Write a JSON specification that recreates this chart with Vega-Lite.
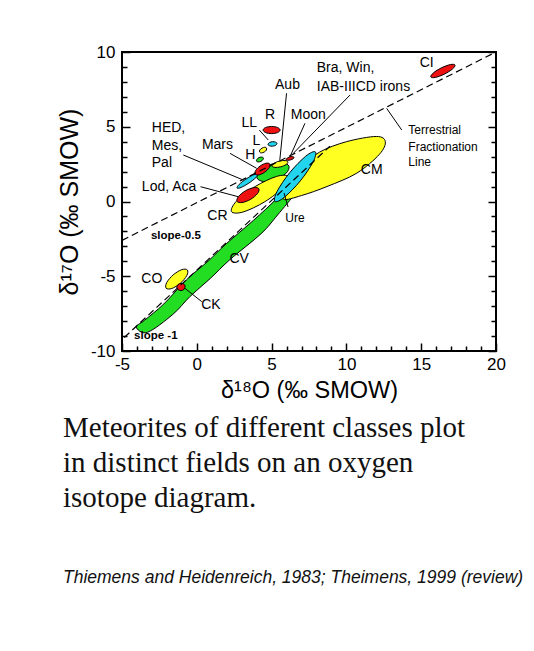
{
  "$schema": "https://vega.github.io/schema/vega-lite/v6.json",
  "width": 374,
  "height": 299,
  "autosize": {"type": "none"},
  "padding": {"left": 122, "top": 52, "right": 38, "bottom": 300},
  "background": "white",
  "config": {
    "view": {"stroke": "black", "strokeWidth": 2},
    "font": "Liberation Sans"
  },
  "title": {
    "text": ["Meteorites of different classes plot", "in distinct fields on an oxygen", "isotope diagram."],
    "subtitle": "Thiemens and Heidenreich, 1983; Theimens, 1999 (review)",
    "orient": "bottom",
    "anchor": "start",
    "frame": "group",
    "dx": -59,
    "offset": 12,
    "font": "Liberation Serif",
    "fontSize": 29,
    "fontWeight": "normal",
    "lineHeight": 35,
    "color": "#111111",
    "subtitleFont": "Liberation Sans",
    "subtitleFontStyle": "italic",
    "subtitleFontSize": 17.5,
    "subtitlePadding": 56,
    "subtitleColor": "#111111"
  },
  "datasets": {
    "fields": [
      {"f": "01 CV", "o": 1, "x": -4.05, "y": -8.4},
      {"f": "01 CV", "o": 2, "x": -3.5, "y": -7.95},
      {"f": "01 CV", "o": 3, "x": -2.2, "y": -6.85},
      {"f": "01 CV", "o": 4, "x": -0.7, "y": -5.25},
      {"f": "01 CV", "o": 5, "x": 0.8, "y": -3.95},
      {"f": "01 CV", "o": 6, "x": 2.0, "y": -2.8},
      {"f": "01 CV", "o": 7, "x": 3.8, "y": -1.25},
      {"f": "01 CV", "o": 8, "x": 5.3, "y": 0.15},
      {"f": "01 CV", "o": 9, "x": 6.3, "y": 1.25},
      {"f": "01 CV", "o": 10, "x": 6.9, "y": 1.0},
      {"f": "01 CV", "o": 11, "x": 6.6, "y": 0.55},
      {"f": "01 CV", "o": 12, "x": 5.4, "y": -0.9},
      {"f": "01 CV", "o": 13, "x": 4.3, "y": -2.15},
      {"f": "01 CV", "o": 14, "x": 2.2, "y": -3.9},
      {"f": "01 CV", "o": 15, "x": 0.9, "y": -5.15},
      {"f": "01 CV", "o": 16, "x": -0.45, "y": -6.35},
      {"f": "01 CV", "o": 17, "x": -1.6, "y": -7.55},
      {"f": "01 CV", "o": 18, "x": -3.3, "y": -8.75},

      {"f": "02 CO", "o": 1, "x": -0.63, "y": -4.58},
      {"f": "02 CO", "o": 2, "x": -1.01, "y": -4.56},
      {"f": "02 CO", "o": 3, "x": -1.58, "y": -4.91},
      {"f": "02 CO", "o": 4, "x": -2.01, "y": -5.42},
      {"f": "02 CO", "o": 5, "x": -2.05, "y": -5.8},
      {"f": "02 CO", "o": 6, "x": -1.67, "y": -5.82},
      {"f": "02 CO", "o": 7, "x": -1.1, "y": -5.47},
      {"f": "02 CO", "o": 8, "x": -0.67, "y": -4.96},

      {"f": "03 CK", "o": 1, "x": -0.78, "y": -5.65},
      {"f": "03 CK", "o": 2, "x": -0.88, "y": -5.52},
      {"f": "03 CK", "o": 3, "x": -1.06, "y": -5.48},
      {"f": "03 CK", "o": 4, "x": -1.26, "y": -5.56},
      {"f": "03 CK", "o": 5, "x": -1.34, "y": -5.75},
      {"f": "03 CK", "o": 6, "x": -1.24, "y": -5.9},
      {"f": "03 CK", "o": 7, "x": -1.06, "y": -5.96},
      {"f": "03 CK", "o": 8, "x": -0.86, "y": -5.88},

      {"f": "04 CM", "o": 1, "x": 5.8, "y": 0.15},
      {"f": "04 CM", "o": 2, "x": 7.0, "y": 0.4},
      {"f": "04 CM", "o": 3, "x": 8.7, "y": 1.0},
      {"f": "04 CM", "o": 4, "x": 10.7, "y": 1.9},
      {"f": "04 CM", "o": 5, "x": 12.2, "y": 3.15},
      {"f": "04 CM", "o": 6, "x": 12.6, "y": 4.0},
      {"f": "04 CM", "o": 7, "x": 12.0, "y": 4.35},
      {"f": "04 CM", "o": 8, "x": 10.0, "y": 4.0},
      {"f": "04 CM", "o": 9, "x": 8.2, "y": 3.3},
      {"f": "04 CM", "o": 10, "x": 7.0, "y": 2.3},
      {"f": "04 CM", "o": 11, "x": 6.2, "y": 1.0},

      {"f": "05 E", "o": 1, "x": 6.16, "y": 2.36},
      {"f": "05 E", "o": 2, "x": 5.72, "y": 2.6},
      {"f": "05 E", "o": 3, "x": 4.91, "y": 2.47},
      {"f": "05 E", "o": 4, "x": 4.21, "y": 2.05},
      {"f": "05 E", "o": 5, "x": 4.02, "y": 1.58},
      {"f": "05 E", "o": 6, "x": 4.46, "y": 1.34},
      {"f": "05 E", "o": 7, "x": 5.27, "y": 1.47},
      {"f": "05 E", "o": 8, "x": 5.97, "y": 1.89},

      {"f": "06 CR", "o": 1, "x": 6.12, "y": 1.66},
      {"f": "06 CR", "o": 2, "x": 5.34, "y": 1.68},
      {"f": "06 CR", "o": 3, "x": 3.9, "y": 1.0},
      {"f": "06 CR", "o": 4, "x": 2.65, "y": 0.02},
      {"f": "06 CR", "o": 5, "x": 2.32, "y": -0.68},
      {"f": "06 CR", "o": 6, "x": 3.1, "y": -0.7},
      {"f": "06 CR", "o": 7, "x": 4.54, "y": -0.02},
      {"f": "06 CR", "o": 8, "x": 5.79, "y": 0.96},

      {"f": "07 Lod", "o": 1, "x": 4.15, "y": 0.85},
      {"f": "07 Lod", "o": 2, "x": 3.82, "y": 0.93},
      {"f": "07 Lod", "o": 3, "x": 3.26, "y": 0.72},
      {"f": "07 Lod", "o": 4, "x": 2.79, "y": 0.34},
      {"f": "07 Lod", "o": 5, "x": 2.69, "y": 0.01},
      {"f": "07 Lod", "o": 6, "x": 3.02, "y": -0.07},
      {"f": "07 Lod", "o": 7, "x": 3.59, "y": 0.14},
      {"f": "07 Lod", "o": 8, "x": 4.05, "y": 0.52},

      {"f": "08 HED", "o": 1, "x": 4.09, "y": 1.84},
      {"f": "08 HED", "o": 2, "x": 3.82, "y": 1.8},
      {"f": "08 HED", "o": 3, "x": 3.3, "y": 1.51},
      {"f": "08 HED", "o": 4, "x": 2.83, "y": 1.14},
      {"f": "08 HED", "o": 5, "x": 2.69, "y": 0.9},
      {"f": "08 HED", "o": 6, "x": 2.96, "y": 0.94},
      {"f": "08 HED", "o": 7, "x": 3.48, "y": 1.23},
      {"f": "08 HED", "o": 8, "x": 3.95, "y": 1.6},

      {"f": "09 Aub", "o": 1, "x": 6.09, "y": 2.65},
      {"f": "09 Aub", "o": 2, "x": 5.9, "y": 2.74},
      {"f": "09 Aub", "o": 3, "x": 5.51, "y": 2.7},
      {"f": "09 Aub", "o": 4, "x": 5.15, "y": 2.55},
      {"f": "09 Aub", "o": 5, "x": 5.03, "y": 2.37},
      {"f": "09 Aub", "o": 6, "x": 5.22, "y": 2.28},
      {"f": "09 Aub", "o": 7, "x": 5.61, "y": 2.32},
      {"f": "09 Aub", "o": 8, "x": 5.97, "y": 2.47},

      {"f": "10 Mars", "o": 1, "x": 4.88, "y": 2.51},
      {"f": "10 Mars", "o": 2, "x": 4.63, "y": 2.56},
      {"f": "10 Mars", "o": 3, "x": 4.24, "y": 2.38},
      {"f": "10 Mars", "o": 4, "x": 3.94, "y": 2.08},
      {"f": "10 Mars", "o": 5, "x": 3.9, "y": 1.83},
      {"f": "10 Mars", "o": 6, "x": 4.15, "y": 1.78},
      {"f": "10 Mars", "o": 7, "x": 4.54, "y": 1.96},
      {"f": "10 Mars", "o": 8, "x": 4.84, "y": 2.26},

      {"f": "11 H", "o": 1, "x": 4.45, "y": 2.92},
      {"f": "11 H", "o": 2, "x": 4.34, "y": 2.97},
      {"f": "11 H", "o": 3, "x": 4.16, "y": 2.94},
      {"f": "11 H", "o": 4, "x": 4.02, "y": 2.82},
      {"f": "11 H", "o": 5, "x": 3.99, "y": 2.7},
      {"f": "11 H", "o": 6, "x": 4.1, "y": 2.65},
      {"f": "11 H", "o": 7, "x": 4.28, "y": 2.68},
      {"f": "11 H", "o": 8, "x": 4.42, "y": 2.8},

      {"f": "12 L", "o": 1, "x": 4.66, "y": 3.58},
      {"f": "12 L", "o": 2, "x": 4.54, "y": 3.63},
      {"f": "12 L", "o": 3, "x": 4.36, "y": 3.57},
      {"f": "12 L", "o": 4, "x": 4.21, "y": 3.44},
      {"f": "12 L", "o": 5, "x": 4.2, "y": 3.31},
      {"f": "12 L", "o": 6, "x": 4.32, "y": 3.25},
      {"f": "12 L", "o": 7, "x": 4.51, "y": 3.31},
      {"f": "12 L", "o": 8, "x": 4.65, "y": 3.44},

      {"f": "13 LL", "o": 1, "x": 5.36, "y": 3.88},
      {"f": "13 LL", "o": 2, "x": 5.27, "y": 3.97},
      {"f": "13 LL", "o": 3, "x": 5.06, "y": 4.0},
      {"f": "13 LL", "o": 4, "x": 4.85, "y": 3.94},
      {"f": "13 LL", "o": 5, "x": 4.76, "y": 3.82},
      {"f": "13 LL", "o": 6, "x": 4.85, "y": 3.73},
      {"f": "13 LL", "o": 7, "x": 5.06, "y": 3.7},
      {"f": "13 LL", "o": 8, "x": 5.27, "y": 3.76},

      {"f": "14 R", "o": 1, "x": 5.57, "y": 4.78},
      {"f": "14 R", "o": 2, "x": 5.4, "y": 4.95},
      {"f": "14 R", "o": 3, "x": 5.0, "y": 5.02},
      {"f": "14 R", "o": 4, "x": 4.6, "y": 4.95},
      {"f": "14 R", "o": 5, "x": 4.43, "y": 4.78},
      {"f": "14 R", "o": 6, "x": 4.6, "y": 4.61},
      {"f": "14 R", "o": 7, "x": 5.0, "y": 4.54},
      {"f": "14 R", "o": 8, "x": 5.4, "y": 4.61},

      {"f": "15 Ure", "o": 1, "x": 7.92, "y": 3.32},
      {"f": "15 Ure", "o": 2, "x": 7.28, "y": 3.03},
      {"f": "15 Ure", "o": 3, "x": 6.22, "y": 1.94},
      {"f": "15 Ure", "o": 4, "x": 5.37, "y": 0.68},
      {"f": "15 Ure", "o": 5, "x": 5.22, "y": 0.0},
      {"f": "15 Ure", "o": 6, "x": 5.86, "y": 0.29},
      {"f": "15 Ure", "o": 7, "x": 6.92, "y": 1.38},
      {"f": "15 Ure", "o": 8, "x": 7.77, "y": 2.64},

      {"f": "16 Moon", "o": 1, "x": 6.5, "y": 2.95},
      {"f": "16 Moon", "o": 2, "x": 6.4, "y": 3.0},
      {"f": "16 Moon", "o": 3, "x": 6.2, "y": 2.98},
      {"f": "16 Moon", "o": 4, "x": 6.02, "y": 2.88},
      {"f": "16 Moon", "o": 5, "x": 5.96, "y": 2.81},
      {"f": "16 Moon", "o": 6, "x": 6.06, "y": 2.76},
      {"f": "16 Moon", "o": 7, "x": 6.26, "y": 2.78},
      {"f": "16 Moon", "o": 8, "x": 6.44, "y": 2.86},

      {"f": "17 CI", "o": 1, "x": 17.26, "y": 9.13},
      {"f": "17 CI", "o": 2, "x": 16.95, "y": 9.16},
      {"f": "17 CI", "o": 3, "x": 16.35, "y": 8.94},
      {"f": "17 CI", "o": 4, "x": 15.81, "y": 8.6},
      {"f": "17 CI", "o": 5, "x": 15.64, "y": 8.33},
      {"f": "17 CI", "o": 6, "x": 15.95, "y": 8.3},
      {"f": "17 CI", "o": 7, "x": 16.55, "y": 8.52},
      {"f": "17 CI", "o": 8, "x": 17.09, "y": 8.86}
    ],
    "lines": [
      {"l": "TFL", "o": 1, "x": -5, "y": -2.6},
      {"l": "TFL", "o": 2, "x": 20, "y": 10},
      {"l": "CCAM", "o": 1, "x": -4.85, "y": -9.1},
      {"l": "CCAM", "o": 2, "x": 8.9, "y": 3.7}
    ],
    "leaders": [
      {"x": -0.79, "y": -5.81, "x2": 0.33, "y2": -6.7},
      {"x": 5.83, "y": 0.57, "x2": 6.1, "y2": -0.37},
      {"x": 0.25, "y": 0.99, "x2": 2.77, "y2": 0.32},
      {"x": -0.9, "y": 3.11, "x2": 3.1, "y2": 1.44},
      {"x": 2.22, "y": 3.22, "x2": 4.0, "y2": 2.22},
      {"x": 4.18, "y": 4.78, "x2": 4.78, "y2": 4.11},
      {"x": 6.0, "y": 7.24, "x2": 5.55, "y2": 2.78},
      {"x": 7.23, "y": 5.23, "x2": 6.23, "y2": 3.0},
      {"x": 10.24, "y": 7.12, "x2": 6.45, "y2": 3.22},
      {"x": 13.7, "y": 4.78, "x2": 12.69, "y2": 6.23}
    ],
    "labels": [
      {"t": "CI", "x": 15.37, "y": 9.24},
      {"t": "Aub", "x": 6.06, "y": 7.79},
      {"t": "Moon", "x": 7.45, "y": 5.79},
      {"t": "R", "x": 4.89, "y": 5.79},
      {"t": "LL", "x": 3.5, "y": 5.23},
      {"t": "L", "x": 3.98, "y": 4.08},
      {"t": "H", "x": 3.58, "y": 3.11},
      {"t": "Mars", "x": 1.38, "y": 3.78},
      {"t": "Lod, Aca", "x": -1.85, "y": 0.94},
      {"t": "CR", "x": 1.38, "y": -0.96},
      {"t": "CM", "x": 11.69, "y": 2.11},
      {"t": "CV", "x": 2.83, "y": -3.86},
      {"t": "CO", "x": -3.01, "y": -5.2},
      {"t": "CK", "x": 0.94, "y": -6.92}
    ],
    "labelsLeft": [
      {"t": "Bra, Win,", "x": 8.02, "y": 8.96},
      {"t": "IAB-IIICD irons", "x": 8.02, "y": 7.63},
      {"t": "HED,", "x": -3.01, "y": 4.9},
      {"t": "Mes,", "x": -3.01, "y": 3.71},
      {"t": "Pal", "x": -3.01, "y": 2.56}
    ],
    "notes": [
      {"t": "Terrestrial", "x": 14.14, "y": 4.78},
      {"t": "Fractionation", "x": 14.14, "y": 3.67},
      {"t": "Line", "x": 14.14, "y": 2.66}
    ],
    "small": [
      {"t": "Ure", "x": 6.56, "y": -1.12}
    ],
    "slopes": [
      {"t": "slope-0.5", "x": -1.4, "y": -2.29},
      {"t": "slope -1", "x": -2.74, "y": -8.98}
    ]
  },
  "layer": [
    {
      "data": {"name": "fields"},
      "mark": {"type": "line", "interpolate": "cardinal-closed", "stroke": "black", "strokeWidth": 1, "strokeJoin": "round"},
      "encoding": {
        "x": {
          "field": "x", "type": "quantitative",
          "scale": {"domain": [-5, 20], "nice": false, "zero": false},
          "axis": {
            "values": [-5, -4, -3, -2, -1, 0, 1, 2, 3, 4, 5, 6, 7, 8, 9, 10, 11, 12, 13, 14, 15, 16, 17, 18, 19, 20],
            "labelExpr": "datum.value % 5 === 0 ? '' + datum.value : ''",
            "tickSize": {"condition": {"test": "datum.value % 5 === 0", "value": -8}, "value": -5},
            "tickColor": "black", "tickWidth": 1.5,
            "domain": false, "grid": false,
            "labelFontSize": 17, "labelColor": "black", "labelPadding": 13,
            "labelFlush": false, "labelOverlap": false, "labelBound": false,
            "title": "δ¹⁸O (‰ SMOW)", "titleFontSize": 23.5, "titleFontWeight": "normal", "titleColor": "black", "titlePadding": 3
          }
        },
        "y": {
          "field": "y", "type": "quantitative",
          "scale": {"domain": [-10, 10], "nice": false, "zero": false},
          "axis": {
            "values": [-10, -9, -8, -7, -6, -5, -4, -3, -2, -1, 0, 1, 2, 3, 4, 5, 6, 7, 8, 9, 10],
            "labelExpr": "datum.value % 5 === 0 ? '' + datum.value : ''",
            "tickSize": {"condition": {"test": "datum.value % 5 === 0", "value": -8}, "value": -5},
            "tickColor": "black", "tickWidth": 1.5,
            "domain": false, "grid": false,
            "labelFontSize": 17, "labelColor": "black", "labelPadding": 15,
            "labelFlush": false, "labelOverlap": false, "labelBound": false,
            "title": "δ¹⁷O (‰ SMOW)", "titleFontSize": 25, "titleFontWeight": "normal", "titleColor": "black", "titlePadding": 8
          }
        },
        "fill": {
          "field": "f", "type": "nominal", "legend": null,
          "scale": {
            "domain": ["01 CV", "02 CO", "03 CK", "04 CM", "05 E", "06 CR", "07 Lod", "08 HED", "09 Aub", "10 Mars", "11 H", "12 L", "13 LL", "14 R", "15 Ure", "16 Moon", "17 CI"],
            "range": ["#22dd22", "#ffff22", "#ee1111", "#ffff22", "#22dd22", "#ffff22", "#ee1111", "#22d4ee", "#ffff22", "#ee1111", "#22dd22", "#ffff22", "#22d4ee", "#ee1111", "#22d4ee", "#ee1111", "#ee1111"]
          }
        },
        "detail": {"field": "f"},
        "order": {"field": "o", "type": "quantitative"}
      }
    },
    {
      "data": {"name": "lines"},
      "mark": {"type": "line", "stroke": "black", "strokeWidth": 1.2, "strokeDash": [7, 4]},
      "encoding": {
        "x": {"field": "x", "type": "quantitative", "axis": null},
        "y": {
          "field": "y", "type": "quantitative",
          "axis": {
            "orient": "right",
            "values": [-10, -9, -8, -7, -6, -5, -4, -3, -2, -1, 0, 1, 2, 3, 4, 5, 6, 7, 8, 9, 10],
            "labels": false, "title": null, "domain": false, "grid": false,
            "tickSize": {"condition": {"test": "datum.value % 5 === 0", "value": -8}, "value": -5},
            "tickColor": "black", "tickWidth": 1.5
          }
        },
        "detail": {"field": "l"},
        "order": {"field": "o", "type": "quantitative"}
      }
    },
    {
      "data": {"name": "leaders"},
      "mark": {"type": "rule", "stroke": "black", "strokeWidth": 1},
      "encoding": {
        "x": {"field": "x", "type": "quantitative", "axis": null},
        "y": {"field": "y", "type": "quantitative", "axis": null},
        "x2": {"field": "x2"},
        "y2": {"field": "y2"}
      }
    },
    {
      "data": {"name": "labels"},
      "mark": {"type": "text", "fontSize": 14, "align": "center", "baseline": "middle", "color": "black", "font": "Liberation Sans"},
      "encoding": {
        "x": {"field": "x", "type": "quantitative", "axis": null},
        "y": {"field": "y", "type": "quantitative", "axis": null},
        "text": {"field": "t"}
      }
    },
    {
      "data": {"name": "labelsLeft"},
      "mark": {"type": "text", "fontSize": 14, "align": "left", "baseline": "middle", "color": "black", "font": "Liberation Sans"},
      "encoding": {
        "x": {"field": "x", "type": "quantitative", "axis": null},
        "y": {"field": "y", "type": "quantitative", "axis": null},
        "text": {"field": "t"}
      }
    },
    {
      "data": {"name": "notes"},
      "mark": {"type": "text", "fontSize": 12, "align": "left", "baseline": "middle", "color": "black", "font": "Liberation Sans"},
      "encoding": {
        "x": {"field": "x", "type": "quantitative", "axis": null},
        "y": {"field": "y", "type": "quantitative", "axis": null},
        "text": {"field": "t"}
      }
    },
    {
      "data": {"name": "small"},
      "mark": {"type": "text", "fontSize": 12, "align": "center", "baseline": "middle", "color": "black", "font": "Liberation Sans"},
      "encoding": {
        "x": {"field": "x", "type": "quantitative", "axis": null},
        "y": {"field": "y", "type": "quantitative", "axis": null},
        "text": {"field": "t"}
      }
    },
    {
      "data": {"name": "slopes"},
      "mark": {"type": "text", "fontSize": 11.5, "fontWeight": "bold", "align": "center", "baseline": "middle", "color": "black", "font": "Liberation Sans"},
      "encoding": {
        "x": {"field": "x", "type": "quantitative", "axis": null},
        "y": {"field": "y", "type": "quantitative", "axis": null},
        "text": {"field": "t"}
      }
    }
  ],
  "resolve": {"axis": {"x": "independent", "y": "independent"}}
}
